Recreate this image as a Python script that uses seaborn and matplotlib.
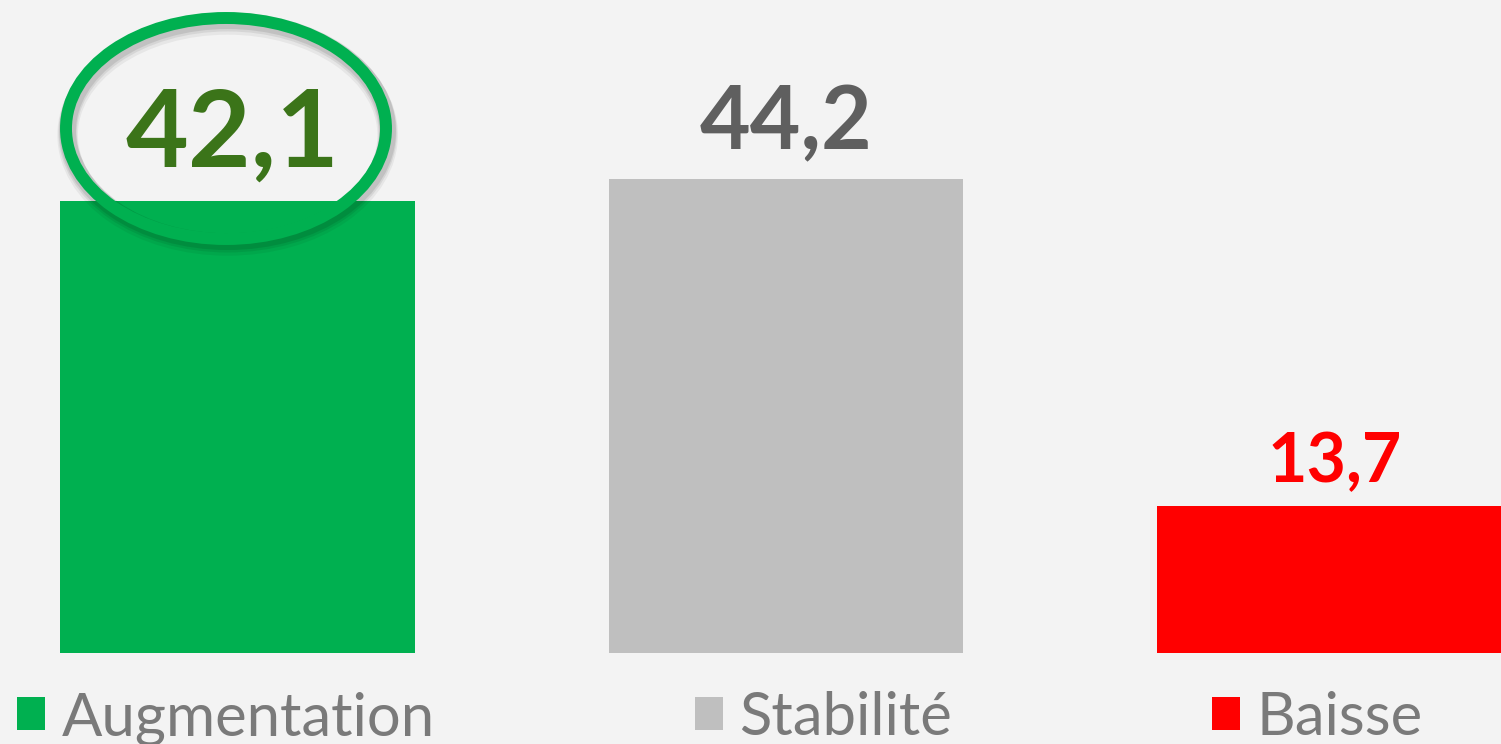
import matplotlib
matplotlib.use('Agg')
import matplotlib.pyplot as plt
from matplotlib.patches import Ellipse, Patch
import seaborn as sns
import pandas as pd

# Data
categories = ['Augmentation', 'Stabilité', 'Baisse']
values = [42.1, 44.2, 13.7]
value_labels = ['42,1', '44,2', '13,7']

bar_colors = ['#00b050', '#bfbfbf', '#ff0000']
label_colors = ['#3b7419', '#5f5f5f', '#ff0000']
label_sizes = [78, 63, 49]
bg = '#f3f3f3'

sns.set_theme(style='white')
plt.rcParams['font.family'] = ['Lato', 'DejaVu Sans']

df = pd.DataFrame({'cat': categories, 'val': values})

fig = plt.figure(figsize=(15.01, 7.44), dpi=100, facecolor=bg)
ax = fig.add_axes([0, 0, 1, 1])
ax.set_facecolor(bg)

sns.barplot(data=df, x='cat', y='val', hue='cat', palette=bar_colors,
            width=0.647, saturation=1, legend=False, linewidth=0, ax=ax)

# pixel mapping: 548.5 px per category, 10.73 px per unit, baseline at y=653
ax.set_xlim(-237.5 / 548.5, (1501 - 237.5) / 548.5)
ax.set_ylim(-91 / 10.73, 653 / 10.73)
ax.axis('off')

# value labels
offsets = [3.2, 2.77, 2.2]
for i, (v, lab) in enumerate(zip(values, value_labels)):
    ax.text(i - 0.01 if i == 0 else i, v + offsets[i], lab, ha='center', va='baseline',
            fontsize=label_sizes[i], fontweight='bold', color=label_colors[i])

# highlight ellipse around the first label (with soft shadow)
cx, cy = (226 - 237.5) / 548.5, (653 - 128.5) / 10.73
w, h = 320 / 548.5, 221 / 10.73
for k, a in [(0.6, 0.05), (0.4, 0.07), (0.25, 0.09)]:
    ax.add_patch(Ellipse((cx + 0.003, cy - k), w, h, fill=False,
                         edgecolor='black', linewidth=10 + 8 * k, alpha=a, zorder=4))
ax.add_patch(Ellipse((cx, cy), w, h, fill=False, edgecolor='#00b050',
                     linewidth=8.6, zorder=5))

# legend along the bottom
handles = [Patch(facecolor=c, edgecolor='none') for c in bar_colors]
fig.legend(handles, categories, loc='upper left', bbox_to_anchor=(17 / 1501, 1 - 691 / 744),
           ncol=3, frameon=False, fontsize=43, labelcolor='#7a7a7a',
           handlelength=0.47, handleheight=0.47, handletextpad=0.28,
           columnspacing=4.35, borderpad=0, borderaxespad=0)

fig.savefig('out.png', dpi=100, facecolor=bg)
